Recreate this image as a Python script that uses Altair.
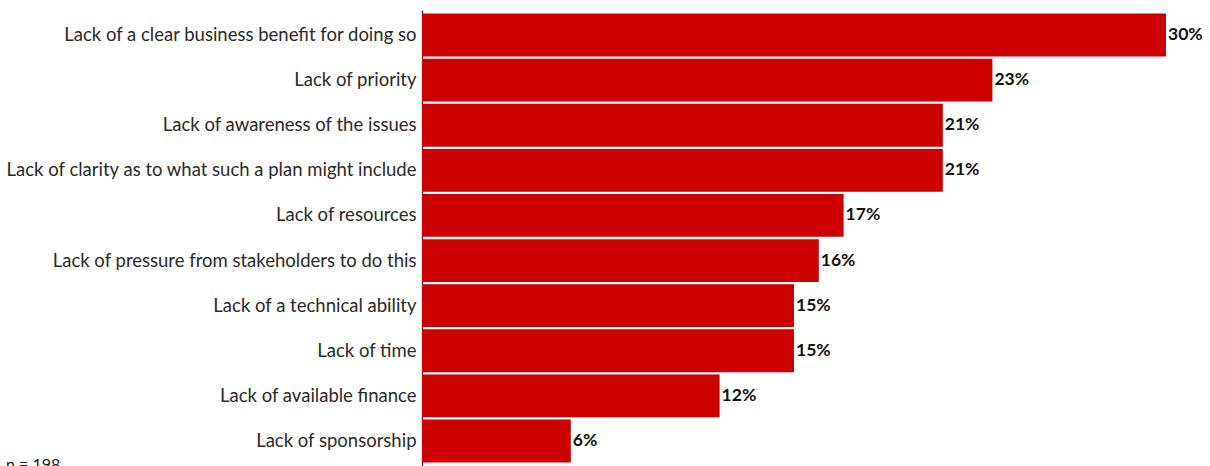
import altair as alt
import pandas as pd

categories = [
    "Lack of a clear business benefit for doing so",
    "Lack of priority",
    "Lack of awareness of the issues",
    "Lack of clarity as to what such a plan might include",
    "Lack of resources",
    "Lack of pressure from stakeholders to do this",
    "Lack of a technical ability",
    "Lack of time",
    "Lack of available finance",
    "Lack of sponsorship",
]
values = [30, 23, 21, 21, 17, 16, 15, 15, 12, 6]
labels = [f"{v}%" for v in values]
note = ["n = 198"]

df = pd.DataFrame({"cat": categories, "val": values, "lab": labels})

FONT = "Lato"

y_enc = alt.Y(
    "cat:N",
    sort=categories,
    scale=alt.Scale(paddingInner=0.05, paddingOuter=0.08),
    axis=alt.Axis(
        title=None,
        labelFont=FONT,
        labelFontSize=18.5,
        labelColor="#2a2a2a",
        labelPadding=6,
        ticks=False,
        domain=True,
        domainColor="#222222",
        domainWidth=1.2,
        labelLimit=500,
    ),
)
x_enc = alt.X(
    "val:Q",
    scale=alt.Scale(domain=[0, 30], nice=False, zero=True),
    axis=None,
)

bars = alt.Chart(df).mark_bar(color="#cc0000").encode(x=x_enc, y=y_enc)

text = alt.Chart(df).mark_text(
    align="left", baseline="middle", dx=2, font=FONT, fontSize=17.5, fontWeight="bold", color="#111111"
).encode(x=x_enc, y=alt.Y("cat:N", sort=categories), text="lab:N")

nlab = alt.Chart(pd.DataFrame({"t": note})).mark_text(
    align="left", baseline="alphabetic", font=FONT, fontSize=16, color="#222222"
).encode(x=alt.value(-416), y=alt.value(460), text="t:N")

chart = (
    alt.layer(bars, text, nlab)
    .properties(
        width=744,
        height=456,
        autosize=alt.AutoSizeParams(type="none"),
        padding={"left": 422, "top": 10, "right": 44, "bottom": 0},
        background="white",
    )
    .configure_view(stroke=None)
)

chart.save("out.html", embed_options={"renderer": "svg", "actions": False})
